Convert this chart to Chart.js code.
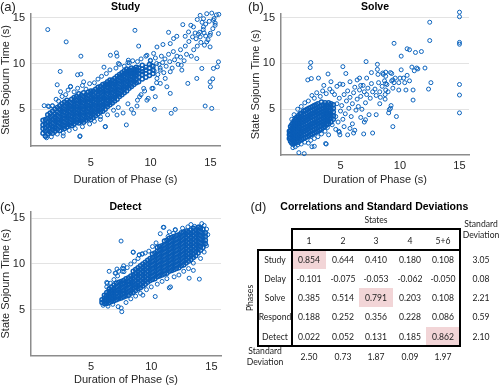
<!DOCTYPE html>
<html>
<head>
<meta charset="utf-8">
<script src="https://cdn.jsdelivr.net/npm/chart.js@4.4.1/dist/chart.umd.min.js"></script>
<style>
  body { margin: 0; background: #fff; }
  #fig { position: relative; width: 500px; height: 387px; overflow: hidden; font-family: "Liberation Sans", Arial, sans-serif; }
  canvas { position: absolute; }
  .t { position: absolute; white-space: nowrap; line-height: 1; transform: translate(-50%, -50%); color: #262626; }
  .panel { position: absolute; white-space: nowrap; line-height: 1; transform: translateY(-50%); font-size: 13px; color: #262626; }
  .ttl { font-weight: bold; font-size: 10.5px; color: #000; }
  .tab { font-family: Lato, "Open Sans", sans-serif; font-size: 10px; color: #222; transform: translate(-50%, -50%) scaleX(0.86); }
  .box { position: absolute; border: 2px solid #000; box-sizing: border-box; }
  .hl { position: absolute; background: #f2d5d7; }
</style>
</head>
<body>
<div id="fig">
  <canvas id="study" width="250" height="190" style="left:0;top:0"></canvas>
  <canvas id="solve" width="250" height="190" style="left:250px;top:0"></canvas>
  <canvas id="detect" width="250" height="197" style="left:0;top:190px"></canvas>
</div>
<script>
const xTicks = [5, 10, 15];
const yTicks = [5, 10, 15];

// dense parts of each cloud: [x, y1, y2, ...]
const studyCore = [
  [1.0, 2.4, 2.9, 3.3, 3.8], [1.2, 2.1, 2.6, 3.0, 3.4, 3.9], [1.4, 2.3, 2.7, 3.2, 3.6, 4.0, 4.4],
  [1.6, 2.5, 2.9, 3.3, 3.7, 4.2, 4.6], [1.8, 2.4, 2.8, 3.1, 3.5, 3.9, 4.3, 4.8],
  [2.0, 2.6, 3.0, 3.4, 3.8, 4.1, 4.5, 5.0], [2.2, 2.8, 3.2, 3.6, 3.9, 4.3, 4.7, 5.2],
  [2.4, 2.7, 3.1, 3.5, 3.8, 4.2, 4.6, 5.0, 5.4], [2.6, 3.0, 3.3, 3.7, 4.0, 4.4, 4.8, 5.1, 5.6],
  [2.8, 2.9, 3.2, 3.6, 4.0, 4.3, 4.7, 5.0, 5.4, 5.8], [3.0, 3.1, 3.5, 3.8, 4.2, 4.5, 4.9, 5.3, 5.6, 6.0],
  [3.2, 3.3, 3.6, 4.0, 4.4, 4.7, 5.1, 5.4, 5.8], [3.4, 3.2, 3.5, 3.9, 4.2, 4.6, 5.0, 5.3, 5.7, 6.1],
  [3.6, 3.4, 3.8, 4.1, 4.5, 4.8, 5.2, 5.5, 5.9, 6.3], [3.8, 3.6, 3.9, 4.3, 4.6, 5.0, 5.3, 5.7, 6.0, 6.4],
  [4.0, 3.5, 3.8, 4.2, 4.5, 4.9, 5.2, 5.6, 5.9, 6.3, 6.7], [4.2, 3.7, 4.0, 4.4, 4.7, 5.1, 5.4, 5.8, 6.1, 6.5],
  [4.4, 3.6, 3.9, 4.3, 4.6, 5.0, 5.3, 5.7, 6.0, 6.4, 6.8], [4.6, 3.8, 4.1, 4.5, 4.8, 5.2, 5.5, 5.9, 6.2, 6.6],
  [4.8, 4.0, 4.4, 4.7, 5.1, 5.4, 5.8, 6.1, 6.5, 6.9], [5.0, 3.9, 4.2, 4.6, 4.9, 5.3, 5.6, 6.0, 6.3, 6.7, 7.0],
  [5.2, 4.1, 4.5, 4.8, 5.2, 5.5, 5.9, 6.2, 6.6, 7.0], [5.4, 4.3, 4.7, 5.0, 5.4, 5.7, 6.1, 6.4, 6.8, 7.2],
  [5.6, 4.5, 4.9, 5.2, 5.6, 5.9, 6.3, 6.6, 7.0, 7.4], [5.8, 4.7, 5.0, 5.4, 5.7, 6.1, 6.4, 6.8, 7.1, 7.5],
  [6.0, 4.8, 5.2, 5.5, 5.9, 6.2, 6.6, 6.9, 7.3, 7.7], [6.2, 5.0, 5.4, 5.7, 6.1, 6.4, 6.8, 7.1, 7.5, 7.8],
  [6.4, 5.3, 5.6, 6.0, 6.3, 6.7, 7.0, 7.4, 7.7, 8.0], [6.6, 5.5, 5.8, 6.2, 6.5, 6.9, 7.2, 7.6, 7.9, 8.2],
  [6.8, 5.7, 6.1, 6.4, 6.8, 7.1, 7.5, 7.8, 8.2], [7.0, 5.9, 6.3, 6.6, 7.0, 7.3, 7.7, 8.0, 8.4],
  [7.2, 6.1, 6.5, 6.8, 7.2, 7.5, 7.9, 8.2, 8.6], [7.4, 6.4, 6.7, 7.1, 7.4, 7.8, 8.1, 8.5, 8.8],
  [7.6, 6.6, 7.0, 7.3, 7.7, 8.0, 8.4, 8.7, 9.0], [7.8, 6.8, 7.2, 7.5, 7.9, 8.2, 8.6, 8.9, 9.2],
  [8.0, 7.0, 7.4, 7.7, 8.1, 8.4, 8.8, 9.1, 9.4], [8.2, 7.3, 7.6, 8.0, 8.3, 8.7, 9.0, 9.3],
  [8.4, 7.5, 7.9, 8.2, 8.6, 8.9, 9.2, 9.5], [8.6, 7.7, 8.1, 8.4, 8.8, 9.1, 9.4],
  [8.8, 7.9, 8.3, 8.7, 9.0, 9.3, 9.6], [9.0, 8.0, 8.5, 8.9, 9.2, 9.5], [9.3, 8.3, 8.8, 9.1, 9.4, 9.8],
  [9.6, 8.5, 8.9, 9.3, 9.6], [9.9, 8.7, 9.1, 9.5, 9.9], [10.2, 8.9, 9.3, 9.7]
];
const studyScatter = [
  [1.1, 5.4], [1.5, 5.3], [1.8, 5.4], [2.3, 5.9], [2.1, 6.1], [2.6, 6.4], [2.9, 6.6], [3.1, 7.1], [3.3, 7.5],
  [3.6, 6.9], [3.9, 7.3], [4.3, 7.6], [4.6, 7.2], [4.9, 7.8], [4.4, 8.0], [5.3, 7.9], [5.6, 8.3], [5.9, 8.6],
  [6.3, 8.9], [6.1, 9.6], [6.6, 9.3], [7.1, 9.5], [7.4, 9.9], [7.8, 9.7], [8.1, 10.1], [8.5, 10.3], [8.9, 10.2],
  [9.2, 10.5], [9.6, 10.8], [10.0, 10.3], [10.4, 10.6], [10.7, 9.9], [10.9, 10.8], [11.2, 10.5], [11.5, 11.0],
  [11.9, 11.3], [12.2, 10.8], [12.5, 11.5], [12.9, 11.9], [13.2, 12.4], [13.5, 12.9], [13.8, 12.7], [14.1, 13.4],
  [14.4, 13.7], [14.6, 14.3], [14.9, 14.6], [15.3, 14.9], [15.5, 15.3],
  [1.3, 1.9], [1.7, 2.0], [2.2, 2.3], [2.7, 2.4], [3.2, 2.7], [3.7, 2.9], [4.1, 2.1], [4.3, 3.1], [4.9, 3.4],
  [5.3, 3.7], [5.8, 3.9], [6.2, 3.1], [6.4, 4.4], [6.9, 4.9], [7.3, 5.2], [7.7, 4.6], [8.1, 5.6], [8.4, 5.0],
  [8.9, 6.0], [9.2, 6.6], [9.5, 7.0], [9.8, 6.2], [10.2, 7.3], [10.5, 7.9],
  [10.1, 9.8], [10.3, 9.2], [10.5, 10.0], [10.6, 8.8], [10.8, 9.5], [11.0, 10.1], [11.1, 9.0], [11.3, 9.7],
  [11.6, 10.2], [11.8, 9.5], [12.0, 10.4], [12.3, 9.9], [12.5, 10.7], [12.8, 10.3], [13.0, 11.0], [13.4, 10.8],
  [13.6, 11.5], [13.9, 11.9], [14.2, 12.3], [14.5, 12.0], [14.8, 12.6], [15.0, 13.3], [15.2, 13.8], [15.4, 14.4],
  [14.3, 14.5], [13.9, 14.8], [14.0, 13.2], [14.6, 13.0],
  [1.4, 13.7], [2.94, 12.36], [4.17, 10.8], [2.44, 9.13], [3.89, 8.77], [4.17, 8.84], [3.31, 7.46], [2.19, 7.68],
  [2.47, 6.92], [1.42, 5.36], [1.78, 5.36], [8.69, 13.62], [6.64, 10.9], [7.14, 11.16], [7.19, 10.8], [9.0, 11.9],
  [8.14, 10.36], [8.22, 10.07], [7.31, 10.0], [9.69, 10.9], [9.97, 10.36], [10.25, 11.1], [10.53, 11.8],
  [11.03, 12.07], [11.5, 13.4], [11.64, 12.17], [11.92, 12.72], [12.19, 12.97], [12.69, 14.24], [13.36, 14.17],
  [12.89, 12.97], [13.17, 13.44], [13.72, 13.33], [13.58, 13.99], [14.14, 15.25], [14.42, 14.89], [14.69, 15.43],
  [15.11, 15.5], [15.25, 14.71], [15.7, 15.36], [15.39, 14.17], [15.67, 13.26], [14.42, 13.99], [14.47, 13.33],
  [14.14, 12.9], [14.97, 13.08], [14.69, 12.36], [14.97, 11.81], [15.67, 10.18], [15.58, 9.64], [15.25, 9.46],
  [14.97, 8.0], [15.19, 8.33], [15.0, 7.46], [13.86, 8.37], [14.28, 9.46], [13.86, 10.54], [13.11, 7.83],
  [12.61, 9.28], [12.56, 9.82], [14.56, 5.36], [15.11, 5.1], [12.06, 5.0], [11.72, 4.57], [10.31, 5.0],
  [9.69, 6.0], [8.86, 5.36], [8.58, 4.57], [7.97, 3.3], [7.19, 4.38], [5.81, 4.2], [6.22, 3.12], [4.08, 2.03],
  [2.69, 2.1], [1.22, 2.03], [11.36, 7.46], [11.22, 8.37], [10.53, 8.37], [10.81, 7.83], [11.64, 9.1],
  [11.64, 6.74], [10.11, 7.28], [10.39, 6.38], [9.42, 7.28], [9.08, 6.38], [10.8, 9.28]
];

const solveCore = [
  [0.7, 1.8, 2.2, 2.6], [0.8, 1.5, 1.9, 2.3, 2.7, 3.1], [0.9, 1.3, 1.7, 2.1, 2.5, 2.9, 3.3],
  [1.0, 1.2, 1.6, 2.0, 2.3, 2.7, 3.1, 3.5], [1.1, 1.4, 1.8, 2.2, 2.5, 2.9, 3.3, 3.7],
  [1.2, 1.3, 1.7, 2.0, 2.4, 2.8, 3.1, 3.5, 3.9], [1.3, 1.5, 1.9, 2.2, 2.6, 3.0, 3.3, 3.7, 4.1],
  [1.45, 1.4, 1.8, 2.1, 2.5, 2.8, 3.2, 3.5, 3.9, 4.3], [1.6, 1.6, 2.0, 2.3, 2.7, 3.0, 3.4, 3.7, 4.1, 4.5],
  [1.75, 1.7, 2.1, 2.4, 2.8, 3.2, 3.5, 3.9, 4.2, 4.6], [1.9, 1.8, 2.2, 2.6, 2.9, 3.3, 3.6, 4.0, 4.4, 4.8],
  [2.05, 1.9, 2.3, 2.7, 3.0, 3.4, 3.8, 4.1, 4.5, 4.9], [2.2, 2.0, 2.4, 2.8, 3.1, 3.5, 3.9, 4.2, 4.6, 5.0],
  [2.35, 2.1, 2.5, 2.9, 3.2, 3.6, 4.0, 4.3, 4.7, 5.1], [2.5, 2.2, 2.6, 3.0, 3.3, 3.7, 4.1, 4.4, 4.8, 5.2],
  [2.65, 2.3, 2.7, 3.1, 3.4, 3.8, 4.2, 4.5, 4.9, 5.3], [2.8, 2.4, 2.8, 3.2, 3.5, 3.9, 4.3, 4.6, 5.0, 5.4],
  [2.95, 2.5, 2.9, 3.3, 3.6, 4.0, 4.4, 4.7, 5.1, 5.5], [3.1, 2.6, 3.0, 3.4, 3.7, 4.1, 4.5, 4.8, 5.2, 5.6],
  [3.25, 2.7, 3.1, 3.5, 3.8, 4.2, 4.6, 4.9, 5.3], [3.4, 2.8, 3.2, 3.6, 3.9, 4.3, 4.7, 5.0, 5.4, 5.8],
  [3.55, 3.0, 3.3, 3.7, 4.1, 4.4, 4.8, 5.1, 5.5], [3.7, 3.1, 3.5, 3.8, 4.2, 4.6, 4.9, 5.3, 5.7],
  [3.85, 3.3, 3.7, 4.0, 4.4, 4.7, 5.1, 5.5], [4.0, 3.4, 3.8, 4.2, 4.5, 4.9, 5.3, 5.7],
  [4.2, 3.6, 4.0, 4.4, 4.8, 5.2, 5.6], [4.4, 3.9, 4.3, 4.7, 5.1, 5.5]
];
const solveScatter = [
  [4.6, 4.2], [4.7, 5.6], [4.8, 3.6], [4.9, 6.2], [5.0, 4.8], [5.1, 5.4], [5.2, 3.9], [5.3, 6.6], [5.4, 4.5],
  [5.5, 5.9], [5.6, 7.0], [5.7, 5.1], [5.8, 6.3], [5.9, 4.2], [6.0, 5.6], [6.1, 6.8], [6.2, 7.4], [6.3, 4.9],
  [6.4, 6.1], [6.5, 5.3], [6.6, 7.1], [6.7, 6.4], [6.8, 5.0], [6.9, 7.6], [7.0, 6.9], [7.1, 5.7], [7.2, 6.6],
  [7.3, 7.3], [7.5, 6.2], [7.6, 7.8], [7.7, 6.9], [7.9, 7.2], [8.0, 6.5], [8.2, 7.9], [8.3, 6.9], [8.5, 7.5],
  [8.7, 8.1], [8.9, 7.7], [9.0, 6.9], [9.3, 8.1], [9.6, 8.4], [9.9, 7.9], [4.5, 6.6], [4.3, 6.9], [4.1, 7.2],
  [3.8, 6.7], [3.5, 7.0], [3.3, 6.4], [3.0, 6.8], [2.8, 6.2], [2.6, 6.5], [2.3, 5.9], [2.0, 5.7], [1.7, 5.3],
  [1.4, 5.0], [1.1, 4.4], [0.9, 3.9], [4.7, 7.5], [5.2, 7.7], [5.8, 8.0], [6.4, 8.2], [4.2, 8.0], [3.6, 7.6],
  [3.9, 3.0], [4.3, 3.3], [4.6, 2.8], [4.9, 2.5], [5.3, 3.1], [5.6, 2.2], [6.0, 3.4], [6.2, 2.7], [6.7, 4.1],
  [7.0, 3.6], [7.4, 4.4], [3.4, 2.3], [3.1, 2.0], [2.8, 1.8], [2.5, 1.6], [2.3, 1.3], [2.0, 1.4], [1.7, 1.2],
  [1.4, 1.1], [1.2, 0.9], [1.0, 0.8], [3.7, 2.6], [4.0, 2.2], [2.6, 0.9], [3.8, 1.2],
  [15.0, 15.6], [15.0, 15.1], [12.5, 14.5], [12.5, 12.5], [15.0, 12.3], [15.0, 12.1], [9.5, 12.2], [10.6, 11.6],
  [10.8, 11.5], [11.3, 11.2], [11.8, 11.3], [10.1, 10.8], [11.0, 9.6], [11.4, 9.5], [11.5, 9.4], [12.1, 9.5],
  [11.2, 9.2], [10.1, 9.3], [10.6, 8.7], [9.2, 9.0], [9.3, 8.9], [8.6, 8.8], [8.8, 8.6], [10.0, 8.4], [10.3, 8.4],
  [10.8, 8.1], [10.4, 7.9], [9.4, 8.2], [9.5, 7.9], [8.8, 7.8], [8.8, 7.1], [8.75, 6.6], [9.4, 7.3], [9.9, 7.1],
  [10.5, 7.1], [11.1, 7.1], [12.4, 7.2], [12.6, 7.9], [15.0, 7.7], [15.0, 6.55], [15.0, 4.6], [11.1, 6.0],
  [9.25, 5.4], [9.2, 5.1], [9.7, 4.2], [9.4, 3.1], [8.3, 5.6], [8.35, 6.3], [8.75, 6.1], [2.5, 10.1], [2.45, 9.55],
  [2.25, 8.2], [2.55, 8.35], [3.15, 8.4], [3.95, 8.85], [5.2, 9.65], [5.45, 8.9], [7.15, 10.2], [8.1, 9.9],
  [8.1, 9.35], [8.15, 8.8], [4.95, 7.75], [6.6, 8.4], [6.7, 7.6], [7.2, 8.4], [7.6, 9.0], [8.55, 8.95],
  [8.8, 9.05], [8.0, 4.4], [7.1, 3.85], [7.7, 2.4], [1.5, 0.25], [1.95, 0.15], [2.8, 0.95], [3.75, 1.25],
  [6.95, 2.3], [9.05, 4.6], [9.1, 4.95], [6.1, 2.4], [5.8, 2.9], [4.95, 2.2], [4.85, 2.6]
];

const detectCore = [
  [5.9, 5.8, 6.1], [6.1, 5.7, 6.0, 6.3, 6.6], [6.3, 5.7, 6.0, 6.3, 6.6, 6.9], [6.5, 5.8, 6.1, 6.4, 6.7, 7.0, 7.3],
  [6.7, 5.9, 6.2, 6.5, 6.8, 7.1, 7.5], [6.9, 6.0, 6.3, 6.6, 7.0, 7.3, 7.7], [7.1, 6.1, 6.4, 6.8, 7.1, 7.5, 7.9],
  [7.3, 6.2, 6.5, 6.9, 7.2, 7.6, 8.0], [7.5, 6.3, 6.6, 7.0, 7.4, 7.7, 8.1], [7.7, 6.4, 6.8, 7.1, 7.5, 7.9, 8.2],
  [7.9, 6.5, 6.9, 7.3, 7.6, 8.0, 8.4], [8.1, 6.6, 7.0, 7.4, 7.8, 8.1, 8.5], [8.3, 6.8, 7.1, 7.5, 7.9, 8.3, 8.7],
  [8.5, 6.9, 7.3, 7.7, 8.0, 8.4, 8.8, 9.2], [8.7, 7.1, 7.5, 7.8, 8.2, 8.6, 9.0, 9.4],
  [8.9, 7.3, 7.6, 8.0, 8.4, 8.8, 9.2, 9.6], [9.1, 7.4, 7.8, 8.2, 8.6, 9.0, 9.4, 9.8],
  [9.3, 7.6, 8.0, 8.4, 8.8, 9.2, 9.6, 10.0], [9.5, 7.8, 8.2, 8.6, 9.0, 9.4, 9.8, 10.2],
  [9.7, 8.0, 8.4, 8.8, 9.2, 9.6, 10.0, 10.4], [9.9, 8.2, 8.6, 9.0, 9.4, 9.8, 10.2, 10.6],
  [10.1, 8.3, 8.7, 9.1, 9.5, 9.9, 10.3, 10.7, 11.1], [10.3, 8.4, 8.8, 9.2, 9.6, 10.0, 10.4, 10.8, 11.2],
  [10.5, 8.6, 9.0, 9.4, 9.8, 10.2, 10.6, 11.0, 11.4, 11.8], [10.7, 8.7, 9.1, 9.5, 9.9, 10.3, 10.7, 11.1, 11.5, 11.9],
  [10.9, 8.8, 9.2, 9.6, 10.0, 10.4, 10.8, 11.2, 11.6, 12.0],
  [11.1, 8.9, 9.3, 9.7, 10.1, 10.5, 10.9, 11.3, 11.7, 12.1, 12.5],
  [11.3, 9.0, 9.4, 9.8, 10.2, 10.6, 11.0, 11.4, 11.8, 12.2, 12.6],
  [11.5, 9.2, 9.6, 10.0, 10.4, 10.8, 11.2, 11.6, 12.0, 12.4, 12.8],
  [11.7, 9.3, 9.7, 10.1, 10.5, 10.9, 11.3, 11.7, 12.1, 12.5, 12.9],
  [11.9, 9.4, 9.8, 10.2, 10.6, 11.0, 11.4, 11.8, 12.2, 12.6, 13.0],
  [12.1, 9.5, 9.9, 10.3, 10.7, 11.1, 11.5, 11.9, 12.3, 12.7, 13.1],
  [12.3, 9.6, 10.0, 10.4, 10.8, 11.2, 11.6, 12.0, 12.4, 12.8, 13.2],
  [12.5, 9.8, 10.2, 10.6, 11.0, 11.4, 11.8, 12.2, 12.6, 13.0, 13.4],
  [12.7, 9.9, 10.3, 10.7, 11.1, 11.5, 11.9, 12.3, 12.7, 13.1, 13.5],
  [12.9, 10.1, 10.5, 10.9, 11.3, 11.7, 12.1, 12.5, 12.9, 13.3, 13.6],
  [13.1, 10.3, 10.7, 11.1, 11.5, 11.9, 12.3, 12.7, 13.1, 13.5],
  [13.3, 10.5, 10.9, 11.3, 11.7, 12.1, 12.5, 12.9, 13.3, 13.7],
  [13.5, 10.7, 11.1, 11.5, 11.9, 12.3, 12.7, 13.1, 13.5, 13.9],
  [13.7, 10.9, 11.3, 11.7, 12.1, 12.5, 12.9, 13.3, 13.7], [13.9, 11.2, 11.6, 12.0, 12.4, 12.8, 13.2, 13.6, 14.0],
  [14.1, 11.5, 11.9, 12.3, 12.7, 13.1, 13.5, 13.9], [14.3, 11.8, 12.2, 12.6, 13.0, 13.4, 13.8],
  [14.5, 12.2, 12.6, 13.0, 13.4]
];
const detectScatter = [
  [6.3, 7.5], [6.6, 7.9], [6.9, 8.3], [7.2, 8.7], [7.0, 9.0], [7.3, 9.2], [7.7, 9.5], [7.6, 9.2], [8.0, 9.6],
  [8.3, 10.0], [8.6, 10.3], [8.5, 11.3], [8.9, 10.6], [9.0, 11.0], [9.25, 11.1], [9.5, 11.2], [9.8, 11.4],
  [10.1, 11.9], [10.4, 12.3], [10.75, 13.3], [11.05, 14.0], [11.4, 13.0], [11.5, 13.5], [11.85, 13.35],
  [12.0, 13.7], [12.4, 13.2], [12.6, 13.9], [13.05, 14.05], [13.3, 14.3], [13.6, 14.1], [14.0, 14.05],
  [14.2, 14.4], [14.4, 14.2], [14.6, 13.8], [14.7, 13.2],
  [6.0, 5.5], [6.4, 5.4], [6.8, 5.6], [7.25, 5.35], [7.5, 5.2], [7.55, 4.8], [7.9, 5.8], [8.3, 6.2], [8.7, 6.5],
  [9.1, 6.8], [9.3, 6.6], [9.6, 7.2], [10.0, 7.5], [10.33, 6.45], [10.5, 7.8], [10.9, 8.1], [11.3, 8.4],
  [11.5, 7.4], [11.6, 7.5], [11.9, 8.6], [12.3, 8.8], [12.7, 9.2], [13.15, 8.45], [13.1, 9.5], [13.5, 9.3],
  [13.5, 10.1], [14.0, 8.35], [14.1, 10.6], [14.4, 11.3], [14.6, 12.0], [6.1, 5.9], [6.3, 8.0],
  [7.49, 12.5], [8.5, 11.27], [9.0, 10.97], [9.25, 11.08], [7.6, 9.53], [7.73, 9.16], [7.05, 9.0], [6.33, 7.9],
  [6.5, 9.2], [7.15, 9.45], [7.7, 9.8], [12.0, 13.75], [11.0, 14.0]
];

const states = ['1', '2', '3', '4', '5+6'];
const phases = ['Study', 'Delay', 'Solve', 'Respond', 'Detect'];
const corrStudy = [0.854, 0.644, 0.410, 0.180, 0.108];
const corrDelay = [-0.101, -0.075, -0.053, -0.062, -0.050];
const corrSolve = [0.385, 0.514, 0.791, 0.203, 0.108];
const corrRespond = [0.188, 0.252, 0.356, 0.228, 0.086];
const corrDetect = [0.022, 0.052, 0.131, 0.185, 0.862];
const phaseSD = [3.05, 0.08, 2.21, 0.59, 2.10];
const stateSD = [2.50, 0.73, 1.87, 0.09, 1.97];
const highlighted = [[0, 0], [2, 2], [4, 4]];

const blue = '#0b63bd';
const denseBlue = '#0a5db7';
const axisColor = '#8c8c8c';
const textColor = '#262626';
const fontFamily = '"Liberation Sans", Arial, sans-serif';

function corePoints(core) {
  const pts = [];
  core.forEach(col => col.slice(1).forEach(y => pts.push({ x: col[0], y })));
  return pts;
}

function scatterChart(id, core, scatter, o) {
  return new Chart(document.getElementById(id), {
    type: 'scatter',
    data: {
      datasets: [{
        data: corePoints(core),
        pointRadius: 2,
        pointBorderWidth: 1.5,
        pointBorderColor: denseBlue,
        pointBackgroundColor: 'rgba(0,0,0,0)',
        clip: false
      }, {
        data: scatter.map(p => ({ x: p[0], y: p[1] })),
        pointRadius: 2,
        pointBorderWidth: 1,
        pointBorderColor: blue,
        pointBackgroundColor: 'rgba(0,0,0,0)',
        clip: false
      }]
    },
    options: {
      responsive: false,
      animation: false,
      devicePixelRatio: 1,
      events: [],
      layout: { padding: { top: o.top, right: o.right, left: 0, bottom: 0 } },
      plugins: { legend: { display: false }, tooltip: { enabled: false } },
      scales: {
        x: {
          type: 'linear', min: 0, max: 15.8,
          afterBuildTicks: s => { s.ticks = xTicks.map(v => ({ value: v })); },
          afterFit: s => { s.height = o.xh; },
          grid: { display: false, drawTicks: false },
          border: { display: true, color: axisColor, width: 1.5 },
          ticks: { padding: o.xpad, color: textColor, font: { family: fontFamily, size: 11 } },
          title: {
            display: true, text: 'Duration of Phase (s)', color: textColor,
            font: { family: fontFamily, size: 11 }, padding: { top: 0, bottom: o.xtb }
          }
        },
        y: {
          type: 'linear', min: o.ymin, max: o.ymax,
          afterBuildTicks: s => { s.ticks = yTicks.map(v => ({ value: v })); },
          afterFit: s => { s.width = 31; },
          grid: { color: '#e3e3e3', lineWidth: 1, drawTicks: false },
          border: { display: true, color: axisColor, width: 1.5 },
          ticks: { padding: 6, color: textColor, font: { family: fontFamily, size: 11 } },
          title: {
            display: true, text: 'State Sojourn Time (s)', color: textColor,
            font: { family: fontFamily, size: 11, lineHeight: 1 }, padding: { top: 0, bottom: 0 }
          }
        }
      }
    }
  });
}

scatterChart('study', studyCore, studyScatter, { top: 14, right: 30, xh: 44, xpad: 10.5, xtb: 3, ymin: 1, ymax: 15.4 });
scatterChart('solve', solveCore, solveScatter, { top: 14, right: 31, xh: 35, xpad: 4, xtb: 3.4, ymin: 0, ymax: 15.4 });
scatterChart('detect', detectCore, detectScatter, { top: 21.7, right: 29, xh: 31.3, xpad: 5, xtb: 0, ymin: 0, ymax: 15.7 });

// text overlays and table
const fig = document.getElementById('fig');
function put(text, x, y, cls, extra) {
  const d = document.createElement('div');
  d.className = cls;
  d.textContent = text;
  d.style.left = x + 'px';
  d.style.top = y + 'px';
  if (extra) Object.assign(d.style, extra);
  fig.appendChild(d);
  return d;
}
function rect(cls, x, y, w, h) {
  const d = document.createElement('div');
  d.className = cls;
  Object.assign(d.style, { left: x + 'px', top: y + 'px', width: w + 'px', height: h + 'px' });
  fig.appendChild(d);
}

put('(a)', 0, 6, 'panel');
put('(b)', 248, 6, 'panel');
put('(c)', 0, 206, 'panel');
put('(d)', 250.5, 206, 'panel');
put('Study', 125.5, 6, 't ttl');
put('Solve', 375, 6, 't ttl');
put('Detect', 125.5, 206, 't ttl');
put('Correlations and Standard Deviations', 374.3, 205.7, 't ttl');

const tLeft = 292.3, tRight = 460, headTop = 229, bodyTop = 250, tBottom = 345.7, rowLabLeft = 258.3;
const colW = (tRight - tLeft) / states.length;
const rowH = (tBottom - bodyTop) / phases.length;
const corr = [corrStudy, corrDelay, corrSolve, corrRespond, corrDetect];

highlighted.forEach(([r, c]) => rect('hl', tLeft + c * colW, bodyTop + r * rowH, colW, rowH));
rect('box', tLeft - 1, headTop - 1, tRight - tLeft + 2, tBottom - headTop + 2);
rect('box', rowLabLeft - 1, bodyTop - 1, tRight - rowLabLeft + 2, tBottom - bodyTop + 2);

put('States', 376, 219.3, 't tab');
put('Standard', 480.5, 222.7, 't tab');
put('Deviation', 480.5, 234.3, 't tab');
states.forEach((s, c) => put(s, tLeft + (c + 0.5) * colW, 239.5, 't tab'));
phases.forEach((p, r) => {
  const cy = bodyTop + (r + 0.5) * rowH - 0.5;
  put(p, 275, cy, 't tab');
  corr[r].forEach((v, c) => put(v.toFixed(3), tLeft + (c + 0.5) * colW, cy, 't tab'));
  put(phaseSD[r].toFixed(2), 481, cy, 't tab');
});
stateSD.forEach((v, c) => put(v.toFixed(2), tLeft + (c + 0.5) * colW, 355.7, 't tab'));
put('Standard', 265, 350, 't tab');
put('Deviation', 265, 361, 't tab');
put('Phases', 248.5, 298, 't tab', { transform: 'translate(-50%, -50%) rotate(-90deg) scaleX(0.86)' });
</script>
</body>
</html>
